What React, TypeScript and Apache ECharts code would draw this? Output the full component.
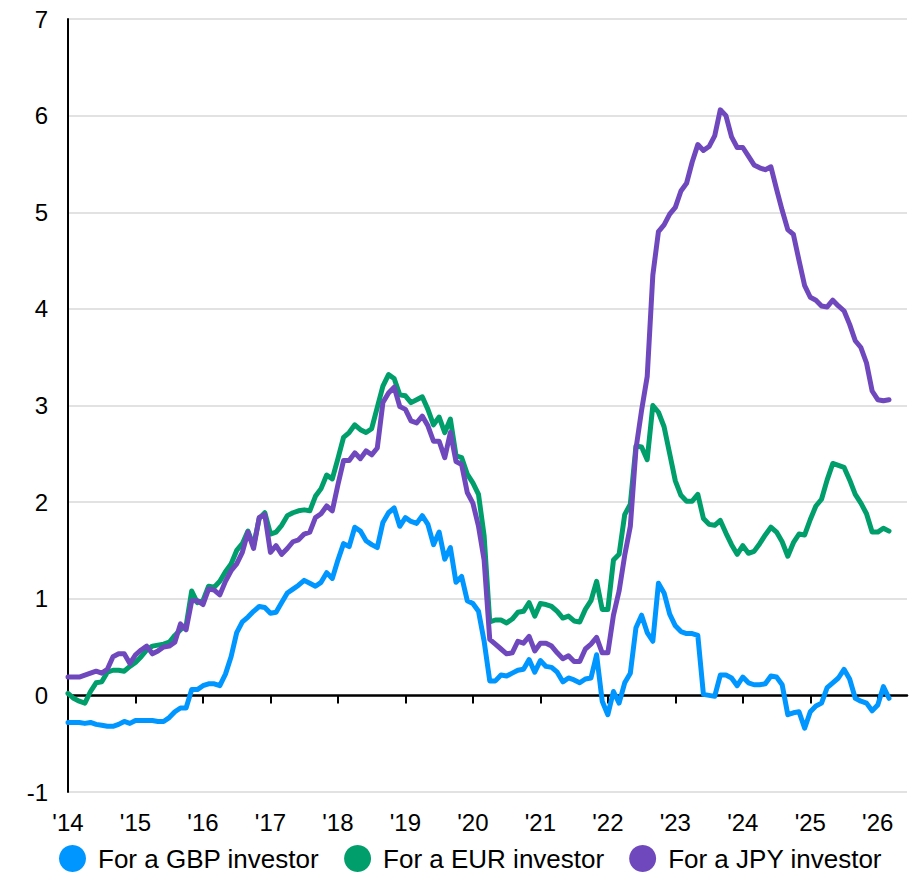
import React, { useEffect, useRef } from "react";
import * as echarts from "echarts";

// Year tick labels (one tick every 12 monthly observations, starting Jan 2014)
const yearLabels = ["'14", "'15", "'16", "'17", "'18", "'19", "'20", "'21", "'22", "'23", "'24", "'25", "'26"];

const seriesNames = ["For a GBP investor", "For a EUR investor", "For a JPY investor"];

// Monthly values, Jan 2014 .. Mar 2026
const gbp = [
  -0.28, -0.28, -0.28, -0.29, -0.28, -0.30, -0.31, -0.32, -0.32, -0.30, -0.27, -0.29,
  -0.26, -0.26, -0.26, -0.26, -0.27, -0.27, -0.23, -0.17, -0.13, -0.13, 0.06, 0.06,
  0.10, 0.12, 0.12, 0.10, 0.22, 0.40, 0.65, 0.76, 0.81, 0.87, 0.92, 0.91,
  0.85, 0.86, 0.96, 1.06, 1.10, 1.14, 1.19, 1.16, 1.13, 1.17, 1.27, 1.21,
  1.40, 1.57, 1.54, 1.74, 1.70, 1.60, 1.56, 1.53, 1.79, 1.89, 1.94, 1.75,
  1.84, 1.80, 1.78, 1.86, 1.77, 1.56, 1.69, 1.41, 1.53, 1.17, 1.23, 0.98,
  0.95, 0.87, 0.56, 0.15, 0.15, 0.21, 0.20, 0.23, 0.26, 0.27, 0.37, 0.24,
  0.36, 0.30, 0.29, 0.24, 0.14, 0.18, 0.16, 0.13, 0.17, 0.18, 0.42, -0.06,
  -0.20, 0.04, -0.08, 0.13, 0.23, 0.70, 0.83, 0.65, 0.56, 1.16, 1.06, 0.84,
  0.72, 0.66, 0.64, 0.64, 0.62, 0.01, 0.00, -0.01, 0.21, 0.21, 0.18, 0.10,
  0.19, 0.13, 0.11, 0.11, 0.12, 0.20, 0.19, 0.11, -0.20, -0.18, -0.17, -0.34,
  -0.17, -0.11, -0.08, 0.08, 0.13, 0.18, 0.27, 0.17, -0.03, -0.06, -0.08, -0.16,
  -0.10, 0.09, -0.03,
];

const eur = [
  0.02, -0.03, -0.06, -0.08, 0.04, 0.13, 0.14, 0.24, 0.26, 0.26, 0.25, 0.30,
  0.34, 0.40, 0.47, 0.51, 0.52, 0.53, 0.55, 0.62, 0.68, 0.72, 1.08, 0.96,
  0.98, 1.13, 1.12, 1.18, 1.28, 1.36, 1.50, 1.57, 1.70, 1.55, 1.83, 1.89,
  1.67, 1.69, 1.76, 1.86, 1.89, 1.91, 1.92, 1.91, 2.06, 2.14, 2.28, 2.24,
  2.45, 2.67, 2.72, 2.80, 2.75, 2.72, 2.76, 2.98, 3.20, 3.32, 3.28, 3.11,
  3.10, 3.03, 3.06, 3.09, 2.96, 2.80, 2.88, 2.72, 2.86, 2.48, 2.46, 2.29,
  2.20, 2.08, 1.65, 0.76, 0.78, 0.78, 0.75, 0.79, 0.86, 0.87, 0.96, 0.82,
  0.95, 0.94, 0.92, 0.87, 0.80, 0.82, 0.77, 0.76, 0.89, 0.98, 1.18, 0.89,
  0.89, 1.40, 1.46, 1.87, 1.98, 2.58, 2.57, 2.44, 3.00, 2.93, 2.78, 2.50,
  2.22, 2.07, 2.01, 2.01, 2.08, 1.83, 1.77, 1.76, 1.81, 1.68, 1.56, 1.46,
  1.55, 1.47, 1.49, 1.57, 1.66, 1.74, 1.69, 1.59, 1.44, 1.58, 1.67, 1.66,
  1.82, 1.96, 2.03, 2.23, 2.40, 2.38, 2.36, 2.23, 2.08, 1.99, 1.88, 1.69,
  1.69, 1.73, 1.70,
];

const jpy = [
  0.19, 0.19, 0.19, 0.21, 0.23, 0.25, 0.23, 0.27, 0.40, 0.43, 0.43, 0.33,
  0.42, 0.47, 0.51, 0.43, 0.46, 0.50, 0.51, 0.55, 0.74, 0.68, 0.98, 0.98,
  0.94, 1.10, 1.09, 1.04, 1.18, 1.29, 1.36, 1.48, 1.69, 1.52, 1.84, 1.87,
  1.48, 1.55, 1.46, 1.52, 1.59, 1.61, 1.67, 1.69, 1.84, 1.88, 1.96, 1.91,
  2.18, 2.43, 2.43, 2.51, 2.45, 2.53, 2.49, 2.56, 3.03, 3.13, 3.19, 2.99,
  2.96, 2.84, 2.82, 2.89, 2.79, 2.63, 2.63, 2.46, 2.72, 2.42, 2.39, 2.10,
  1.99, 1.75, 1.40, 0.58, 0.53, 0.48, 0.43, 0.44, 0.56, 0.54, 0.61, 0.46,
  0.54, 0.54, 0.51, 0.44, 0.38, 0.41, 0.35, 0.35, 0.48, 0.53, 0.60, 0.44,
  0.44, 0.83, 1.08, 1.45, 1.75, 2.55, 2.95, 3.30, 4.35, 4.80, 4.87, 4.98,
  5.05, 5.22, 5.30, 5.52, 5.70, 5.64, 5.68, 5.79, 6.06, 6.00, 5.78, 5.67,
  5.67, 5.58, 5.49, 5.46, 5.44, 5.47, 5.24, 5.02, 4.82, 4.77, 4.50, 4.24,
  4.12, 4.09, 4.03, 4.02, 4.09, 4.03, 3.98, 3.84, 3.67, 3.60, 3.44, 3.15,
  3.06, 3.05, 3.06,
];

const colors = ["#0096FF", "#009E6B", "#7048BE"];
const FONT = "'Liberation Sans', Arial, Helvetica, sans-serif";

export default function App() {
  const ref = useRef<HTMLDivElement>(null);

  useEffect(() => {
    if (!ref.current) return;
    const chart = echarts.init(ref.current, null, { renderer: "svg" });
    const tickValues = yearLabels.map((_, i) => i * 12);
    const toPairs = (arr: number[]) => arr.map((v, i) => [i, v]);
    const xMax = 149.2;

    chart.setOption({
      animation: false,
      grid: { left: 68, right: 13, top: 19, bottom: 85, containLabel: false },
      xAxis: [
        {
          type: "value",
          min: 0,
          max: xMax,
          interval: 12,
          position: "bottom",
          axisLine: { show: false, onZero: false },
          axisTick: { show: false },
          splitLine: { show: false },
          axisLabel: {
            customValues: tickValues,
            formatter: (v: number) => yearLabels[Math.round(v / 12)] ?? "",
            fontSize: 24,
            color: "#000",
            fontFamily: FONT,
            margin: 18,
          },
        },
        {
          type: "value",
          min: 0,
          max: xMax,
          interval: 12,
          position: "bottom",
          axisLine: { show: true, onZero: true, lineStyle: { color: "#000", width: 2.5 } },
          axisTick: { show: true, customValues: tickValues, length: 8, lineStyle: { color: "#000", width: 2 } },
          axisLabel: { show: false },
          splitLine: { show: false },
        },
      ],
      yAxis: {
        type: "value",
        min: -1,
        max: 7,
        interval: 1,
        axisLine: { show: true, onZero: false, lineStyle: { color: "#000", width: 2 } },
        axisTick: { show: false },
        axisLabel: { fontSize: 24, color: "#000", fontFamily: FONT, margin: 20 },
        splitLine: { lineStyle: { color: "#d9d9d9", width: 1.5 } },
      },
      legend: {
        data: seriesNames,
        bottom: 0,
        left: 54,
        icon: "circle",
        itemWidth: 27,
        itemHeight: 27,
        itemGap: 25,
        textStyle: { fontSize: 26, color: "#000", fontFamily: FONT, padding: [0, 0, 0, 7] },
      },
      series: [gbp, eur, jpy].map((arr, i) => ({
        name: seriesNames[i],
        type: "line",
        xAxisIndex: 0,
        data: toPairs(arr),
        showSymbol: false,
        symbol: "none",
        color: colors[i],
        lineStyle: { color: colors[i], width: 5, cap: "round", join: "round" },
      })),
    });

    return () => chart.dispose();
  }, []);

  return <div ref={ref} style={{ position: "absolute", left: 0, top: 0, width: 920, height: 877 }} />;
}
